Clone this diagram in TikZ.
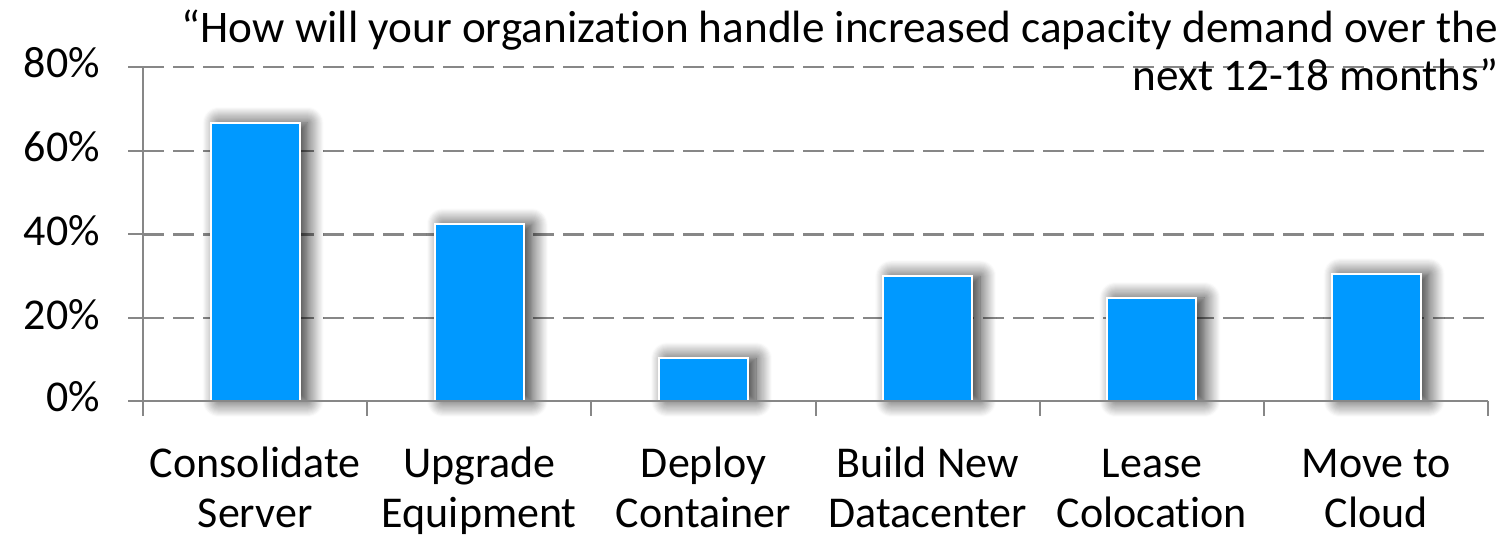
\documentclass[tikz,border=0pt]{standalone}
\usepackage{fontspec}
\setmainfont[Ligatures=NoCommon]{Carlito}
\usetikzlibrary{shadows.blur}
\definecolor{c0099ff}{RGB}{0,153,255}
\definecolor{c878787}{RGB}{135,135,135}

\tikzset{
  gridline/.style={draw=c878787,line width=1.2pt,dash pattern=on 10.5pt off 4.5pt},
  axisline/.style={draw=c878787,line width=1pt,line cap=butt},
  bar/.style={draw=white,fill=c0099ff,line width=1pt,
    blur shadow={shadow xshift=4pt,shadow yshift=0pt,shadow blur radius=8pt,
      shadow opacity=85,shadow blur steps=16}},
  lab/.style={font=\fontsize{22}{25}\selectfont,inner sep=0pt,outer sep=0pt}
}

\begin{document}
\begin{tikzpicture}[y=0.50pt, x=0.5pt, yscale=-1, inner sep=0pt, outer sep=0pt]
  \useasboundingbox (0,0) rectangle (1507,560);
  \foreach \p/\t in {20/318.25,40/234.5,60/150.75,80/67}
    \path[gridline] (143,\t) -- (1490,\t);
  \foreach \v [count=\i] in {66.4,42.2,10.2,29.8,24.6,30.3}
  {
    \pgfmathsetmacro\cx{143+224.2*(\i-0.5)}
    \path[bar] ({\cx-44.5},401) rectangle ({\cx+44.5},{401-4.1875*\v});
  }
  \path[axisline] (143,67) -- (143,401) -- (1488,401);
  \foreach \t in {401,318.25,234.5,150.75,67}
    \path[axisline] (128,\t) -- (143,\t);
  \foreach \i in {0,...,6}
    \path[axisline] ({143+224.2*\i},401) -- ({143+224.2*\i},416);
  \foreach \p/\t in {0/401,20/318.25,40/234.5,60/150.75,80/67}
    \node[lab,anchor=base east] (text\p) at (100,{\t+11}) {\p\%};
  \foreach \name/\txt [count=\i] in {consolidate/Consolidate\\Server,
      upgrade/Upgrade\\Equipment,deploy/Deploy\\Container,
      build/Build New\\Datacenter,lease/Lease\\Colocation,move/Move to\\Cloud}
    \node[lab,align=center,anchor=base] (text-\name) at ({143+224.2*(\i-0.5)},527) {\txt};
  \node[lab,font=\fontsize{22.6}{24}\selectfont,align=right,anchor=base east] (text-title)
    at (1498,91) {“How will your organization handle increased capacity demand over the\\next 12-18 months”};
\end{tikzpicture}
\end{document}
